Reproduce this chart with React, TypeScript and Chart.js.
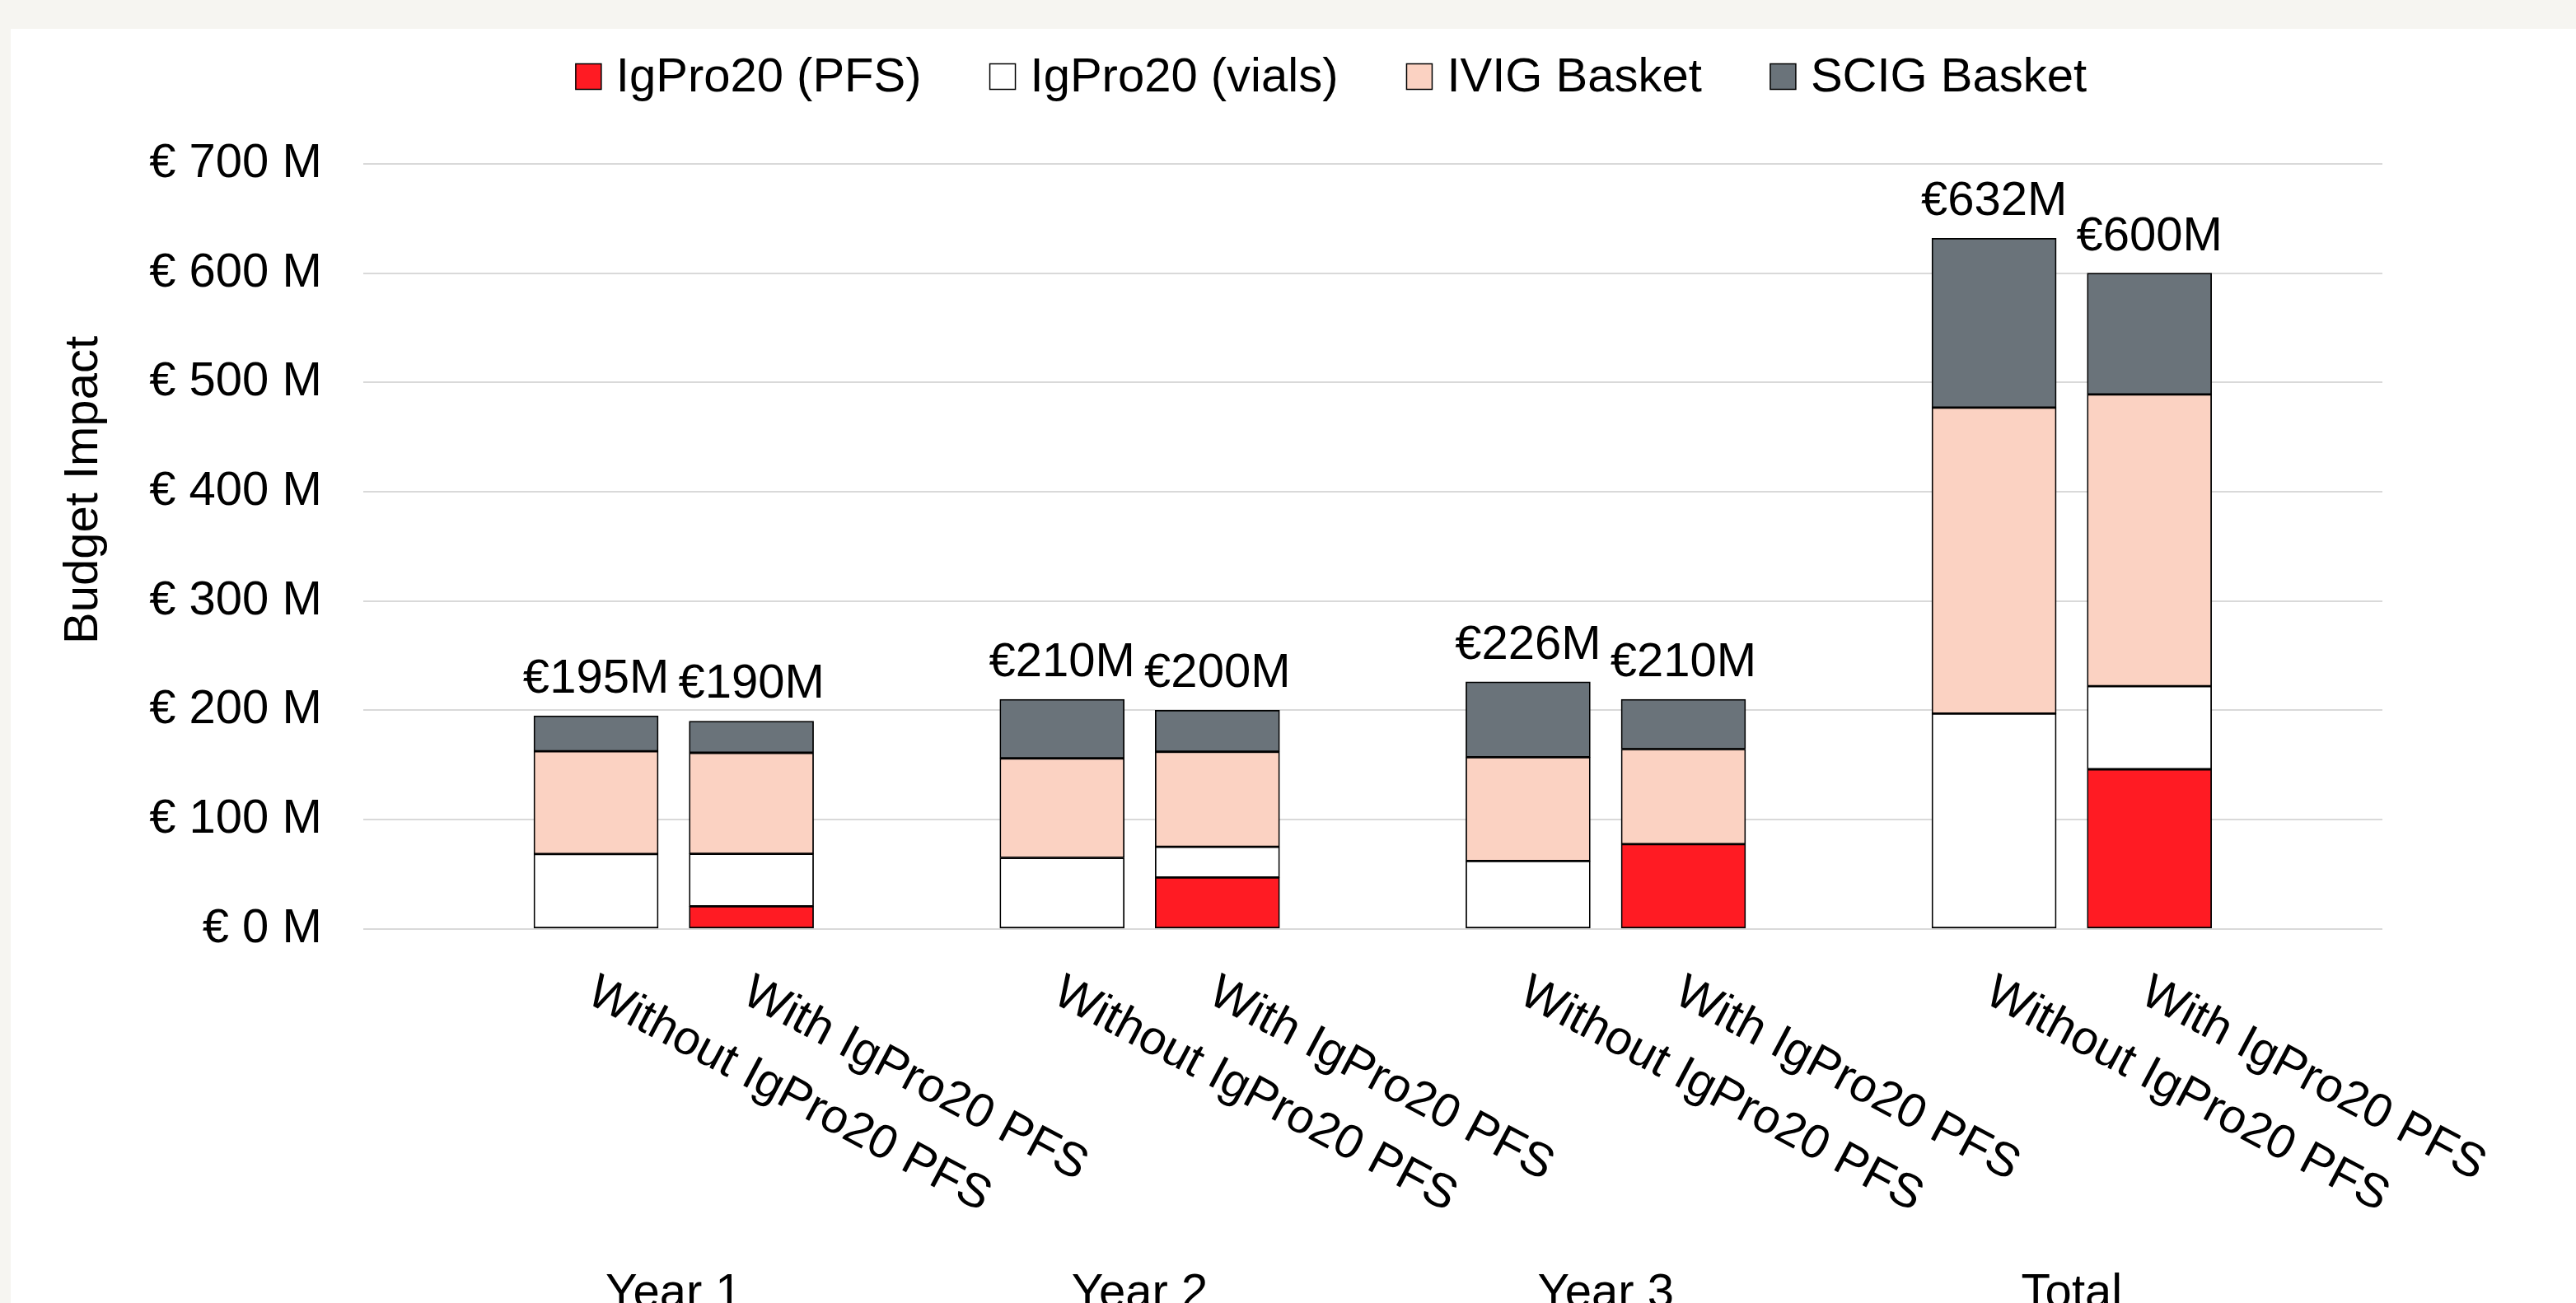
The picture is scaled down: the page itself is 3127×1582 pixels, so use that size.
import React, { useEffect, useRef } from 'react';
import { Chart, registerables } from 'chart.js';

Chart.register(...registerables);

// ---------- data ----------
const barLabels = [
  'Without IgPro20 PFS', 'With IgPro20 PFS',
  'Without IgPro20 PFS', 'With IgPro20 PFS',
  'Without IgPro20 PFS', 'With IgPro20 PFS',
  'Without IgPro20 PFS', 'With IgPro20 PFS',
];
const groupLabels = ['Year 1', 'Year 2', 'Year 3', 'Total'];
const seriesNames = ['IgPro20 (PFS)', 'IgPro20 (vials)', 'IVIG Basket', 'SCIG Basket'];
const pfsValues = [0, 20.6, 0, 47, 0, 77.5, 0, 146];
const vialsValues = [68.5, 48, 65, 28, 62, 0, 197, 76];
const ivigValues = [94, 92.5, 91, 87, 95, 87, 280, 267];
const scigValues = [32.5, 29, 54, 38, 69, 45.5, 155, 111];
const totalLabels = ['€195M', '€190M', '€210M', '€200M', '€226M', '€210M', '€632M', '€600M'];
const yAxisTitle = 'Budget Impact';

// ---------- styles ----------
const FONT = '"Liberation Sans", Arial, Helvetica, sans-serif';
const FS = 58;
const seriesColors = ['#FF1B23', '#FFFFFF', '#FBD2C2', '#6A737A'];
const CANVAS_W = 3114;
const CANVAS_H = 1547;

// bars sit in pairs with one empty slot between groups
const barPos = (i: number) => i + Math.floor(i / 2);

const overlayPlugin = {
  id: 'overlayText',
  afterDraw(chart: any) {
    const ctx: CanvasRenderingContext2D = chart.ctx;
    const xs = chart.scales.x;
    const ys = chart.scales.y;
    ctx.save();
    ctx.fillStyle = '#000';
    ctx.font = `${FS}px ${FONT}`;

    // total labels above stacks
    const topMeta = chart.getDatasetMeta(chart.data.datasets.length - 1);
    ctx.textAlign = 'center';
    ctx.textBaseline = 'alphabetic';
    totalLabels.forEach((t, i) => {
      const el = topMeta.data[i];
      ctx.fillText(t, el.x, el.y - 28);
    });

    // rotated category labels
    const ang = (28 * Math.PI) / 180;
    barLabels.forEach((lab, i) => {
      const x = xs.getPixelForValue(barPos(i));
      ctx.save();
      ctx.translate(x - 14, ys.bottom + 88);
      ctx.rotate(ang);
      ctx.textAlign = 'left';
      ctx.textBaseline = 'alphabetic';
      ctx.fillText(lab, 0, 0);
      ctx.restore();
    });

    // group labels
    ctx.textAlign = 'center';
    groupLabels.forEach((g, k) => {
      const x1 = xs.getPixelForValue(barPos(2 * k));
      const x2 = xs.getPixelForValue(barPos(2 * k + 1));
      ctx.fillText(g, (x1 + x2) / 2, ys.bottom + 459);
    });

    // y axis title
    ctx.save();
    ctx.translate(104.5, 560);
    ctx.rotate(-Math.PI / 2);
    ctx.textAlign = 'center';
    ctx.fillText(yAxisTitle, 0, 0);
    ctx.restore();

    // legend
    const box = 31;
    const gapBoxText = 18;
    const gapItems = 83;
    const widths = seriesNames.map((n) => ctx.measureText(n).width);
    const total = widths.reduce((a, w) => a + box + gapBoxText + w, 0) + gapItems * (seriesNames.length - 1);
    let lx = 1603 - total / 2;
    const cy = 58;
    ctx.textAlign = 'left';
    ctx.textBaseline = 'middle';
    seriesNames.forEach((n, s) => {
      ctx.fillStyle = seriesColors[s];
      ctx.fillRect(lx, cy - box / 2, box, box);
      ctx.strokeStyle = '#000';
      ctx.lineWidth = 1.5;
      ctx.strokeRect(lx, cy - box / 2, box, box);
      ctx.fillStyle = '#000';
      ctx.fillText(n, lx + box + gapBoxText, cy + 2);
      lx += box + gapBoxText + widths[s] + gapItems;
    });

    ctx.restore();
  },
};

export default function App() {
  const ref = useRef<HTMLCanvasElement | null>(null);

  useEffect(() => {
    if (!ref.current) return;
    Chart.defaults.font.family = FONT;
    Chart.defaults.color = '#000';
    const seriesValues = [pfsValues, vialsValues, ivigValues, scigValues];
    const chart = new Chart(ref.current, {
      type: 'bar',
      data: {
        datasets: seriesValues.map((vals, s) => ({
          label: seriesNames[s],
          data: vals.map((v, i) => ({ x: barPos(i), y: v })),
          backgroundColor: seriesColors[s],
          borderColor: '#000',
          borderWidth: 1.75,
          borderSkipped: false,
          barThickness: 151,
        })),
      },
      options: {
        responsive: false,
        animation: false,
        devicePixelRatio: 1,
        layout: { padding: { left: 0, right: 235, top: 164, bottom: 454.3 } },
        plugins: { legend: { display: false }, tooltip: { enabled: false } },
        scales: {
          x: {
            type: 'linear',
            min: -1.5,
            max: 11.5,
            offset: false,
            stacked: true,
            display: false,
            grid: { offset: false },
          },
          y: {
            stacked: true,
            min: 0,
            max: 700,
            ticks: {
              stepSize: 100,
              padding: 50,
              color: '#000',
              font: { size: FS, family: FONT },
              callback: (v: any) => `€ ${v} M`,
            },
            grid: { color: '#D9D9D9', lineWidth: 2, drawTicks: false },
            border: { display: false },
            afterFit: (s: any) => {
              s.width = 427.7;
            },
          },
        },
      } as any,
      plugins: [overlayPlugin],
    });
    return () => chart.destroy();
  }, []);

  return (
    <div style={{ position: 'absolute', left: 0, top: 0, width: 3127, height: 1582, background: '#F6F5F1', overflow: 'hidden' }}>
      <div style={{ position: 'absolute', left: 13, top: 35, width: CANVAS_W, height: CANVAS_H, background: '#FFFFFF' }}>
        <canvas ref={ref} width={CANVAS_W} height={CANVAS_H} style={{ display: 'block', width: CANVAS_W, height: CANVAS_H }} />
      </div>
    </div>
  );
}
